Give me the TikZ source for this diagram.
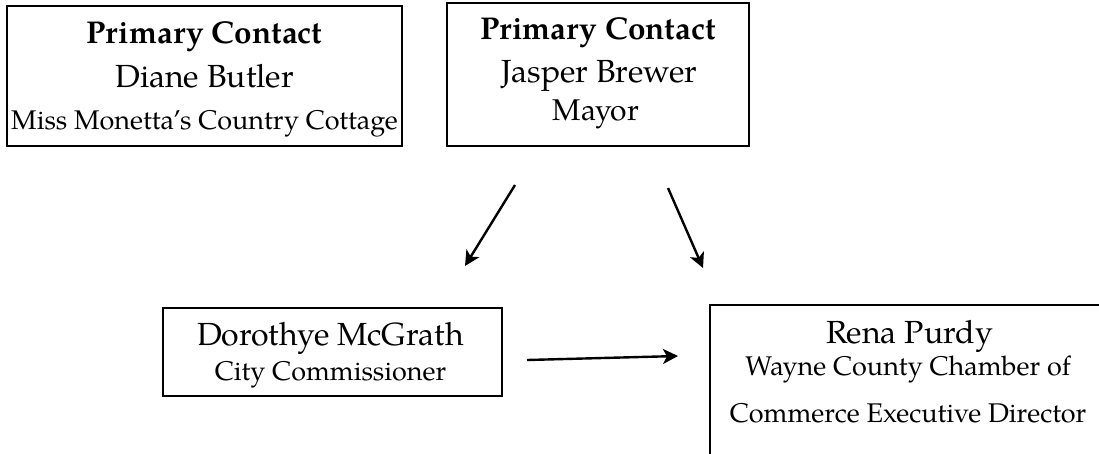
\documentclass[tikz,border=0pt]{standalone}
\usepackage{fontspec}
\setmainfont{TeX Gyre Pagella}
\usetikzlibrary{arrows.meta}
\begin{document}
\begin{tikzpicture}[x=1pt,y=-1pt,
  box/.style={draw,line width=2.2pt,inner sep=0pt,outer sep=0pt},
  ttl/.style={font=\fontsize{31.5}{36}\selectfont\bfseries,inner sep=0pt,anchor=base},
  nm/.style={font=\fontsize{32}{36}\selectfont,inner sep=0pt,anchor=base},
  sb/.style={font=\fontsize{27}{32}\selectfont,inner sep=0pt,anchor=base},
  arr/.style={line width=2.4pt,-{Stealth[length=15pt,width=15pt,inset=4pt]}}]
\useasboundingbox (0,0) rectangle (1099,453);
% boxes
\node[box,minimum width=395pt,minimum height=140pt] (b1) at (204.5,76) {};
\node[box,minimum width=302pt,minimum height=143pt] (b2) at (598,74.5) {};
\node[box,minimum width=339pt,minimum height=88pt] (b3) at (332.5,352) {};
\node[box,minimum width=396pt,minimum height=170pt] (b4) at (908,390) {};
% texts
\node[ttl] (b1a) at (204.5,43) {Primary Contact};
\node[nm]  (b1b) at (204.5,87) {Diane Butler};
\node[sb]  (b1c) at (204.5,129) {Miss Monetta’s Country Cottage};
\node[ttl] (b2a) at (598,39) {Primary Contact};
\node[nm]  (b2b) at (599,82) {Jasper Brewer};
\node[sb,font=\fontsize{30}{34}\selectfont]  (b2c) at (596,120) {Mayor};
\node[nm]  (b3a) at (330.5,345) {Dorothye McGrath};
\node[sb]  (b3b) at (330.5,380) {City Commissioner};
\node[nm]  (b4a) at (909.5,343) {Rena Purdy};
\node[sb]  (b4b) at (908,375) {Wayne County Chamber of};
\node[sb]  (b4c) at (908,422) {Commerce Executive Director};
% arrows
\coordinate (l1) at (515,185);
\coordinate (l2) at (465,266);
\coordinate (r1) at (668,188);
\coordinate (r2) at (703,268);
\coordinate (m1) at (527,360);
\coordinate (m2) at (678,356);
\draw[arr] (l1) -- (l2);
\draw[arr] (r1) -- (r2);
\draw[arr] (m1) -- (m2);
\end{tikzpicture}
\end{document}
